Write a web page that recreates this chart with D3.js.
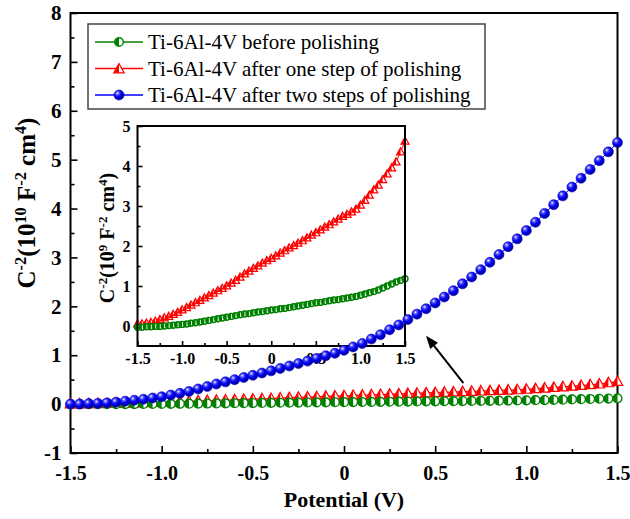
<!DOCTYPE html>
<html>
<head>
<meta charset="utf-8">
<script src="https://cdn.jsdelivr.net/npm/d3@7"></script>
<style>
body { margin: 0; background: #fff; }
svg { display: block; }
text { font-family: "Liberation Serif", "Times New Roman", serif; }
</style>
</head>
<body>
<svg id="chart" width="630" height="519"></svg>
<script>
// potential (V)
const potential = [-1.50,-1.45,-1.40,-1.35,-1.30,-1.25,-1.20,-1.15,-1.10,-1.05,
  -1.00,-0.95,-0.90,-0.85,-0.80,-0.75,-0.70,-0.65,-0.60,-0.55,
  -0.50,-0.45,-0.40,-0.35,-0.30,-0.25,-0.20,-0.15,-0.10,-0.05,
  0.00,0.05,0.10,0.15,0.20,0.25,0.30,0.35,0.40,0.45,
  0.50,0.55,0.60,0.65,0.70,0.75,0.80,0.85,0.90,0.95,
  1.00,1.05,1.10,1.15,1.20,1.25,1.30,1.35,1.40,1.45,1.50];

// C^-2 in 1e9 F^-2 cm^4
const beforePolishing = [-0.03,-0.03,-0.02,-0.02,-0.01,-0.01,0.00,0.01,0.02,0.03,
  0.04,0.05,0.07,0.08,0.10,0.12,0.14,0.16,0.18,0.20,
  0.22,0.24,0.26,0.28,0.30,0.31,0.33,0.35,0.36,0.38,
  0.40,0.41,0.43,0.44,0.46,0.48,0.50,0.52,0.54,0.56,
  0.58,0.59,0.61,0.63,0.65,0.66,0.68,0.70,0.72,0.74,
  0.77,0.80,0.83,0.86,0.90,0.95,1.00,1.05,1.10,1.14,1.18];

const oneStep = [0.05,0.05,0.07,0.09,0.12,0.16,0.20,0.24,0.29,0.34,
  0.40,0.46,0.52,0.58,0.64,0.70,0.76,0.82,0.88,0.94,
  1.00,1.07,1.14,1.22,1.30,1.37,1.44,1.50,1.57,1.63,
  1.69,1.75,1.82,1.88,1.95,2.01,2.07,2.13,2.20,2.27,
  2.33,2.40,2.47,2.53,2.60,2.67,2.74,2.79,2.85,2.92,
  3.02,3.14,3.27,3.40,3.52,3.66,3.80,3.95,4.10,4.35,4.62];

// C^-2 in 1e10 F^-2 cm^4
const twoSteps = [0.00,0.00,0.01,0.015,0.025,0.04,0.06,0.08,0.10,0.125,
  0.15,0.185,0.22,0.26,0.31,0.36,0.41,0.455,0.50,0.545,
  0.59,0.635,0.68,0.73,0.78,0.83,0.88,0.935,0.99,1.04,
  1.10,1.17,1.24,1.33,1.42,1.52,1.62,1.73,1.84,1.95,
  2.07,2.19,2.32,2.46,2.60,2.75,2.90,3.06,3.22,3.38,
  3.55,3.72,3.90,4.08,4.26,4.44,4.62,4.80,4.98,5.16,5.35];

const xTicks = [-1.5, -1.0, -0.5, 0, 0.5, 1.0, 1.5];
const xMinor = [-1.25, -0.75, -0.25, 0.25, 0.75, 1.25];
const yTicksMain = [-1, 0, 1, 2, 3, 4, 5, 6, 7, 8];
const yMinorMain = [-0.5, 0.5, 1.5, 2.5, 3.5, 4.5, 5.5, 6.5, 7.5];
const yTicksInset = [0, 1, 2, 3, 4, 5];
const yMinorInset = [0.5, 1.5, 2.5, 3.5, 4.5];
const legendLabels = ['Ti-6Al-4V before polishing',
  'Ti-6Al-4V after one step of polishing',
  'Ti-6Al-4V after two steps of polishing'];

const GREEN = '#008000', RED = '#ff0000', BLUE = '#0000ff';

const svg = d3.select('#chart');
const defs = svg.append('defs');
const grad = defs.append('radialGradient').attr('id', 'ball')
  .attr('cx', '35%').attr('cy', '32%').attr('r', '65%');
grad.append('stop').attr('offset', '0%').attr('stop-color', '#f4f4ff');
grad.append('stop').attr('offset', '28%').attr('stop-color', '#4a4aff');
grad.append('stop').attr('offset', '60%').attr('stop-color', '#0000f0');
grad.append('stop').attr('offset', '100%').attr('stop-color', '#0000a0');

const fmt = d => d === 0 ? '0' : d.toFixed(1);
const fmtInt = d => String(d);

// marker helpers
function tri(x, y, s) {
  return `M${x},${y - s}L${x + s * 0.95},${y + s * 0.7}L${x - s * 0.95},${y + s * 0.7}Z`;
}
function triLeft(x, y, s) {
  return `M${x},${y - s}L${x},${y + s * 0.7}L${x - s * 0.95},${y + s * 0.7}Z`;
}
function halfLeft(x, y, r) {
  return `M${x},${y - r}A${r},${r} 0 0 0 ${x},${y + r}Z`;
}

function drawGreen(g, pts, r) {
  const m = g.append('g');
  m.selectAll('circle').data(pts).join('circle')
    .attr('cx', d => d[0]).attr('cy', d => d[1]).attr('r', r)
    .attr('fill', '#fff').attr('stroke', GREEN).attr('stroke-width', 1.4);
  m.selectAll('path').data(pts).join('path')
    .attr('d', d => halfLeft(d[0], d[1], r)).attr('fill', GREEN);
}
function drawRed(g, pts, s) {
  const m = g.append('g');
  m.selectAll('path.o').data(pts).join('path').attr('class', 'o')
    .attr('d', d => tri(d[0], d[1], s))
    .attr('fill', '#fff').attr('stroke', RED).attr('stroke-width', 1.2);
  m.selectAll('path.f').data(pts).join('path').attr('class', 'f')
    .attr('d', d => triLeft(d[0], d[1], s)).attr('fill', RED);
}
function drawBlue(g, pts, r) {
  g.append('g').selectAll('circle').data(pts).join('circle')
    .attr('cx', d => d[0]).attr('cy', d => d[1]).attr('r', r)
    .attr('fill', 'url(#ball)').attr('stroke', '#0000c0').attr('stroke-width', 0.6);
}

function addSup(t, parts) {
  parts.forEach(([s, sup]) => {
    const ts = t.append('tspan').text(s);
    if (sup) ts.attr('baseline-shift', 'super').attr('font-size', '65%');
  });
}

function styleAxis(g, size) {
  g.select('.domain').remove();
  g.selectAll('.tick line').attr('stroke', '#000').attr('stroke-width', 1.6);
  g.selectAll('.tick text').attr('fill', '#000')
    .attr('font-size', size).attr('font-weight', 'bold')
    .attr('font-family', '"Liberation Serif", "Times New Roman", serif');
}

// ---------- main plot ----------
const M = { left: 70.5, right: 617.5, top: 13, bottom: 453 };
const x = d3.scaleLinear().domain([-1.5, 1.5]).range([M.left, M.right]);
const y = d3.scaleLinear().domain([-1, 8]).range([M.bottom, M.top]);

const main = svg.append('g');

const gx = main.append('g').attr('transform', `translate(0,${M.bottom})`)
  .call(d3.axisBottom(x).tickValues(xTicks).tickFormat(fmt).tickSize(-7).tickPadding(13));
styleAxis(gx, 20);
const gxm = main.append('g').attr('transform', `translate(0,${M.bottom})`)
  .call(d3.axisBottom(x).tickValues(xMinor).tickFormat('').tickSize(-4));
styleAxis(gxm, 20);

const gy = main.append('g').attr('transform', `translate(${M.left},0)`)
  .call(d3.axisLeft(y).tickValues(yTicksMain).tickFormat(fmtInt).tickSize(-7).tickPadding(9));
styleAxis(gy, 21);
const gym = main.append('g').attr('transform', `translate(${M.left},0)`)
  .call(d3.axisLeft(y).tickValues(yMinorMain).tickFormat('').tickSize(-4));
styleAxis(gym, 21);

main.append('rect')
  .attr('x', M.left).attr('y', M.top)
  .attr('width', M.right - M.left).attr('height', M.bottom - M.top)
  .attr('fill', 'none').attr('stroke', '#000').attr('stroke-width', 2);

main.append('text').attr('x', (M.left + M.right) / 2).attr('y', 507)
  .attr('text-anchor', 'middle').attr('font-size', 22).attr('font-weight', 'bold')
  .text('Potential (V)');

const yl = main.append('text')
  .attr('transform', 'translate(35,203) rotate(-90)')
  .attr('text-anchor', 'middle').attr('font-size', 25).attr('font-weight', 'bold');
addSup(yl, [['C'], ['-2', 1], ['(10'], ['10', 1], [' F'], ['-2', 1], [' cm'], ['4', 1], [')']]);

// ---------- legend ----------
const leg = svg.append('g');
leg.append('rect').attr('x', 88).attr('y', 24).attr('width', 397).attr('height', 85)
  .attr('fill', '#fff').attr('stroke', '#444').attr('stroke-width', 1.5);
const legColors = [GREEN, RED, BLUE];
legendLabels.forEach((lab, i) => {
  const cy = 42 + i * 26.5;
  leg.append('line').attr('x1', 95).attr('x2', 143).attr('y1', cy).attr('y2', cy)
    .attr('stroke', legColors[i]).attr('stroke-width', 1.3);
  if (i === 0) drawGreen(leg, [[119, cy]], 4.3);
  if (i === 1) drawRed(leg, [[119, cy + 0.5]], 5.5);
  if (i === 2) drawBlue(leg, [[119, cy]], 5);
  leg.append('text').attr('x', 148).attr('y', cy + 7).attr('font-size', 21).text(lab);
});

// ---------- inset ----------
const I = { left: 137.5, right: 405, top: 126, bottom: 346 };
const xi = d3.scaleLinear().domain([-1.5, 1.5]).range([I.left, I.right]);
const yi = d3.scaleLinear().domain([-0.5, 5]).range([I.bottom, I.top]);
const inset = svg.append('g');
inset.append('rect').attr('x', I.left).attr('y', I.top)
  .attr('width', I.right - I.left).attr('height', I.bottom - I.top).attr('fill', '#fff');

const ix = inset.append('g').attr('transform', `translate(0,${I.bottom})`)
  .call(d3.axisBottom(xi).tickValues(xTicks).tickFormat(fmt).tickSize(-5).tickPadding(7));
styleAxis(ix, 16);
const ixm = inset.append('g').attr('transform', `translate(0,${I.bottom})`)
  .call(d3.axisBottom(xi).tickValues(xMinor).tickFormat('').tickSize(-3));
styleAxis(ixm, 16);
const iy = inset.append('g').attr('transform', `translate(${I.left},0)`)
  .call(d3.axisLeft(yi).tickValues(yTicksInset).tickFormat(fmtInt).tickSize(-5).tickPadding(7));
styleAxis(iy, 16);
const iym = inset.append('g').attr('transform', `translate(${I.left},0)`)
  .call(d3.axisLeft(yi).tickValues(yMinorInset).tickFormat('').tickSize(-3));
styleAxis(iym, 16);

const lineGen = d3.line().x(d => d[0]).y(d => d[1]);
const redIn = potential.map((v, i) => [xi(v), yi(oneStep[i])]);
const greenIn = potential.map((v, i) => [xi(v), yi(beforePolishing[i])]);
inset.append('path').attr('d', lineGen(redIn)).attr('fill', 'none').attr('stroke', RED).attr('stroke-width', 1);
drawRed(inset, redIn, 4.2);
inset.append('path').attr('d', lineGen(greenIn)).attr('fill', 'none').attr('stroke', GREEN).attr('stroke-width', 1);
drawGreen(inset, greenIn, 3);

inset.append('rect').attr('x', I.left).attr('y', I.top)
  .attr('width', I.right - I.left).attr('height', I.bottom - I.top)
  .attr('fill', 'none').attr('stroke', '#000').attr('stroke-width', 2);

const iyl = inset.append('text')
  .attr('transform', 'translate(114,238) rotate(-90)')
  .attr('text-anchor', 'middle').attr('font-size', 20).attr('font-weight', 'bold');
addSup(iyl, [['C'], ['-2', 1], ['(10'], ['9', 1], [' F'], ['-2', 1], [' cm'], ['4', 1], [')']]);

// ---------- main series ----------
const redMain = potential.map((v, i) => [x(v), y(oneStep[i] / 10)]);
const greenMain = potential.map((v, i) => [x(v), y(beforePolishing[i] / 10)]);
const blueMain = potential.map((v, i) => [x(v), y(twoSteps[i])]);
const series = svg.append('g');
series.append('path').attr('d', lineGen(redMain)).attr('fill', 'none').attr('stroke', RED).attr('stroke-width', 1.3);
drawRed(series, redMain, 5.6);
series.append('path').attr('d', lineGen(greenMain)).attr('fill', 'none').attr('stroke', GREEN).attr('stroke-width', 1.3);
drawGreen(series, greenMain, 4.4);
series.append('path').attr('d', lineGen(blueMain)).attr('fill', 'none').attr('stroke', BLUE).attr('stroke-width', 1);
drawBlue(series, blueMain, 5);

// ---------- arrow ----------
const tail = [x(0.655), y(0.43)], head = [x(0.45), y(1.4)];
const ang = Math.atan2(head[1] - tail[1], head[0] - tail[0]);
const hl = 13, hw = 5;
const bx = head[0] - hl * Math.cos(ang), by = head[1] - hl * Math.sin(ang);
svg.append('line').attr('x1', tail[0]).attr('y1', tail[1]).attr('x2', bx).attr('y2', by)
  .attr('stroke', '#000').attr('stroke-width', 2);
svg.append('path')
  .attr('d', `M${head[0]},${head[1]}L${bx + hw * Math.sin(ang)},${by - hw * Math.cos(ang)}L${bx - hw * Math.sin(ang)},${by + hw * Math.cos(ang)}Z`)
  .attr('fill', '#000');
</script>
</body>
</html>
